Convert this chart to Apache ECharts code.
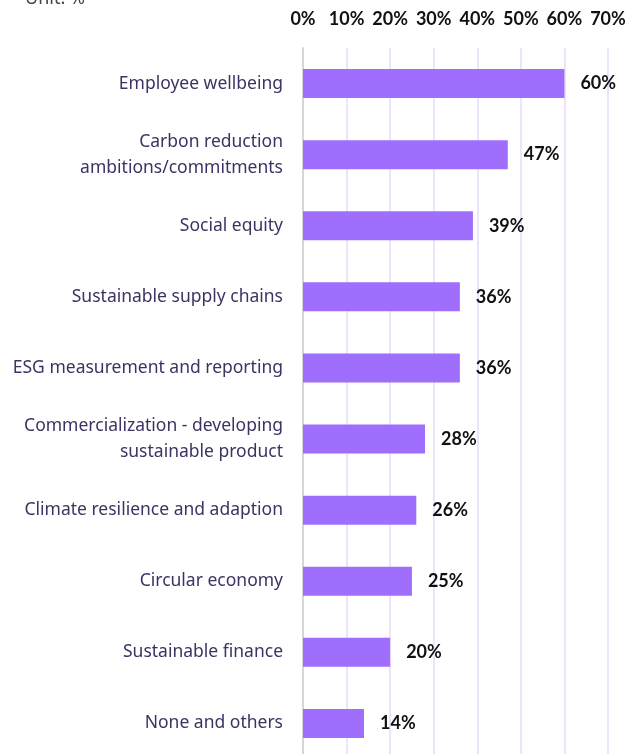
<!DOCTYPE html>
<html><head><meta charset="utf-8">
<script src="https://cdn.jsdelivr.net/npm/echarts@6/dist/echarts.min.js"></script>
<style>html,body{margin:0;padding:0;background:#fff;overflow:hidden}#c{width:640px;height:780px}</style>
</head><body><div id="c"></div>
<script>
const categories = ["Employee wellbeing","Carbon reduction\nambitions/commitments","Social equity","Sustainable supply chains","ESG measurement and reporting","Commercialization - developing\nsustainable product","Climate resilience and adaption","Circular economy","Sustainable finance","None and others"];
const values = [60,47,39,36,36,28,26,25,20,14];
const xTicks = [0,10,20,30,40,50,60,70];
const chart = echarts.init(document.getElementById('c'));
chart.setOption({
  animation:false,
  title:{text:'Unit: %',left:20,top:-15,textStyle:{fontFamily:'Noto Sans',fontWeight:'normal',fontSize:18,color:'#444'}},
  grid:{left:303,right:32,top:48,bottom:21,containLabel:false},
  xAxis:{type:'value',position:'top',min:xTicks[0],max:xTicks[xTicks.length-1],interval:10,
    axisLine:{show:false},axisTick:{show:false},
    axisLabel:{margin:20,formatter:'{value}%',color:'#111',fontFamily:'Lato',fontWeight:'bold',fontSize:18},
    splitLine:{lineStyle:{color:'#ece4fd',width:2}}},
  yAxis:{type:'category',inverse:true,data:categories,
    axisLine:{lineStyle:{color:'#d6d6d6',width:2}},axisTick:{show:false},
    axisLabel:{margin:20,color:'#3f3262',fontFamily:'Noto Sans',fontSize:17.5,lineHeight:26,align:'right'}},
  series:[{type:'bar',data:values,barWidth:29,itemStyle:{color:'#a06efc'},
    label:{show:true,position:'right',distance:16,formatter:'{c}%',color:'#111',fontFamily:'Lato',fontWeight:'bold',fontSize:18}}]
});
</script></body></html>
